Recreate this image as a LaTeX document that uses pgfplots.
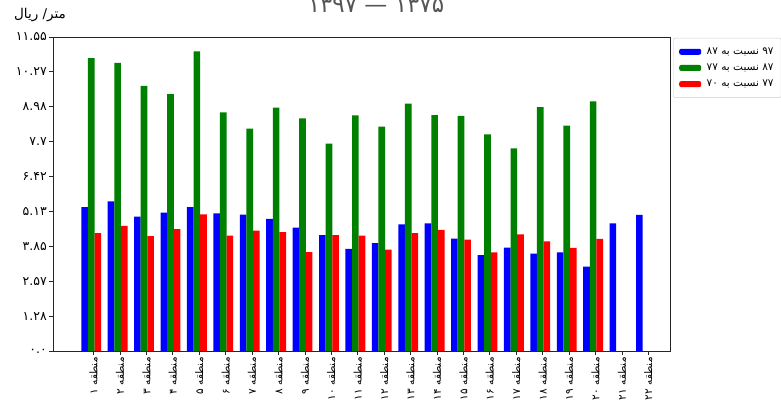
\documentclass[border=0pt]{standalone}
\usepackage{fontspec}
\setmainfont{DejaVu Sans}
\newfontfamily\arabicfont[Script=Arabic]{DejaVu Sans}
\TeXXeTstate=1
\usepackage{pgfplots}
\pgfplotsset{compat=1.18}
\definecolor{mblue}{RGB}{0,0,255}
\definecolor{mgreen}{RGB}{0,128,0}
\definecolor{mred}{RGB}{255,0,0}
\definecolor{titlegray}{RGB}{85,85,85}
\newcommand{\fa}[1]{\mbox{\arabicfont #1}}
\pgfplotstableread{
x y
1 5.29
2 5.50
3 4.94
4 5.09
5 5.29
6 5.06
7 5.02
8 4.86
9 4.54
10 4.26
11 3.76
12 3.97
13 4.66
14 4.69
15 4.13
16 3.53
17 3.80
18 3.58
19 3.63
20 3.10
21 4.69
22 5.01
}\blueTable
\pgfplotstableread{
x y
1 10.77
2 10.60
3 9.75
4 9.45
5 11.02
6 8.78
7 8.18
8 8.95
9 8.56
10 7.63
11 8.67
12 8.25
13 9.10
14 8.68
15 8.65
16 7.97
17 7.45
18 8.97
19 8.29
20 9.18
}\greenTable
\pgfplotstableread{
x y
1 4.34
2 4.60
3 4.23
4 4.48
5 5.03
6 4.24
7 4.43
8 4.37
9 3.64
10 4.26
11 4.24
12 3.73
13 4.34
14 4.46
15 4.10
16 3.63
17 4.29
18 4.03
19 3.79
20 4.12
}\redTable
\begin{document}
\begin{tikzpicture}
\begin{axis}[
  at={(0pt,0pt)}, anchor=south west,
  scale only axis, width=617pt, height=314pt,
  xmin=-0.446, xmax=22.91, ymin=0, ymax=11.55,
  ybar, bar width=0.25,
  axis line style={black!85, line width=0.8pt},
  tick style={black!85, line width=0.8pt},
  tick align=outside, major tick length=3.5pt,
  xtick pos=lower, ytick pos=left,
  xtick={1.09,2.09,3.09,4.09,5.09,6.09,7.09,8.09,9.09,10.09,11.09,12.09,13.09,14.09,15.09,16.09,17.09,18.09,19.09,20.09,21.09,22.09},
  xticklabels={
    \mbox{\arabicfont\beginR منطقه ۱\endR},
    \mbox{\arabicfont\beginR منطقه ۲\endR},
    \mbox{\arabicfont\beginR منطقه ۳\endR},
    \mbox{\arabicfont\beginR منطقه ۴\endR},
    \mbox{\arabicfont\beginR منطقه ۵\endR},
    \mbox{\arabicfont\beginR منطقه ۶\endR},
    \mbox{\arabicfont\beginR منطقه ۷\endR},
    \mbox{\arabicfont\beginR منطقه ۸\endR},
    \mbox{\arabicfont\beginR منطقه ۹\endR},
    \mbox{\arabicfont\beginR منطقه ۱۰\endR},
    \mbox{\arabicfont\beginR منطقه ۱۱\endR},
    \mbox{\arabicfont\beginR منطقه ۱۲\endR},
    \mbox{\arabicfont\beginR منطقه ۱۳\endR},
    \mbox{\arabicfont\beginR منطقه ۱۴\endR},
    \mbox{\arabicfont\beginR منطقه ۱۵\endR},
    \mbox{\arabicfont\beginR منطقه ۱۶\endR},
    \mbox{\arabicfont\beginR منطقه ۱۷\endR},
    \mbox{\arabicfont\beginR منطقه ۱۸\endR},
    \mbox{\arabicfont\beginR منطقه ۱۹\endR},
    \mbox{\arabicfont\beginR منطقه ۲۰\endR},
    \mbox{\arabicfont\beginR منطقه ۲۱\endR},
    \mbox{\arabicfont\beginR منطقه ۲۲\endR}},
  xticklabel style={rotate=90, anchor=east, font=\fontsize{10.5}{11}\selectfont, inner sep=2.5pt},
  ytick={0,1.28,2.57,3.85,5.13,6.42,7.7,8.98,10.27,11.55},
  yticklabels={\fa{۰.۰},\fa{۱.۲۸},\fa{۲.۵۷},\fa{۳.۸۵},\fa{۵.۱۳},\fa{۶.۴۲},\fa{۷.۷},\fa{۸.۹۸},\fa{۱۰.۲۷},\fa{۱۱.۵۵}},
  yticklabel style={font=\fontsize{12.5}{13}\selectfont, inner sep=2.5pt},
  legend style={at={(1.0049,0.997)}, anchor=north west, draw=black!20, rounded corners=2pt,
    font=\fontsize{10.5}{12}\selectfont, inner xsep=6pt, inner ysep=8pt,
    row sep=5pt, nodes={inner sep=1.5pt},
    /tikz/every odd column/.append style={column sep=4pt}},
  legend cell align=left,
  legend image code/.code={\fill[#1] (0pt,-3pt) rectangle (22pt,3pt);},
]
\addplot[fill=mblue, draw=none, bar shift=-0.25] table[x=x,y=y] {\blueTable};
\addlegendentry{\arabicfont\beginR ۹۷ نسبت به ۸۷\endR}
\addplot[fill=mgreen, draw=none, bar shift=0] table[x=x,y=y] {\greenTable};
\addlegendentry{\arabicfont\beginR ۸۷ نسبت به ۷۷\endR}
\addplot[fill=mred, draw=none, bar shift=0.25] table[x=x,y=y] {\redTable};
\addlegendentry{\arabicfont\beginR ۷۷ نسبت به ۷۰\endR}
\end{axis}
\node[anchor=base, font=\fontsize{13.5}{15}\selectfont\arabicfont] at (-13pt,332pt) {\beginR متر/ ریال\endR};
\node[anchor=base, text=titlegray, font=\fontsize{23}{26}\selectfont\arabicfont] at (323pt,338.5pt) {\beginR ۱۳۷۵ — ۱۳۹۷\endR};
\pgfresetboundingbox
\useasboundingbox (-53pt,-59pt) rectangle (728pt,351pt);
\end{tikzpicture}
\end{document}
